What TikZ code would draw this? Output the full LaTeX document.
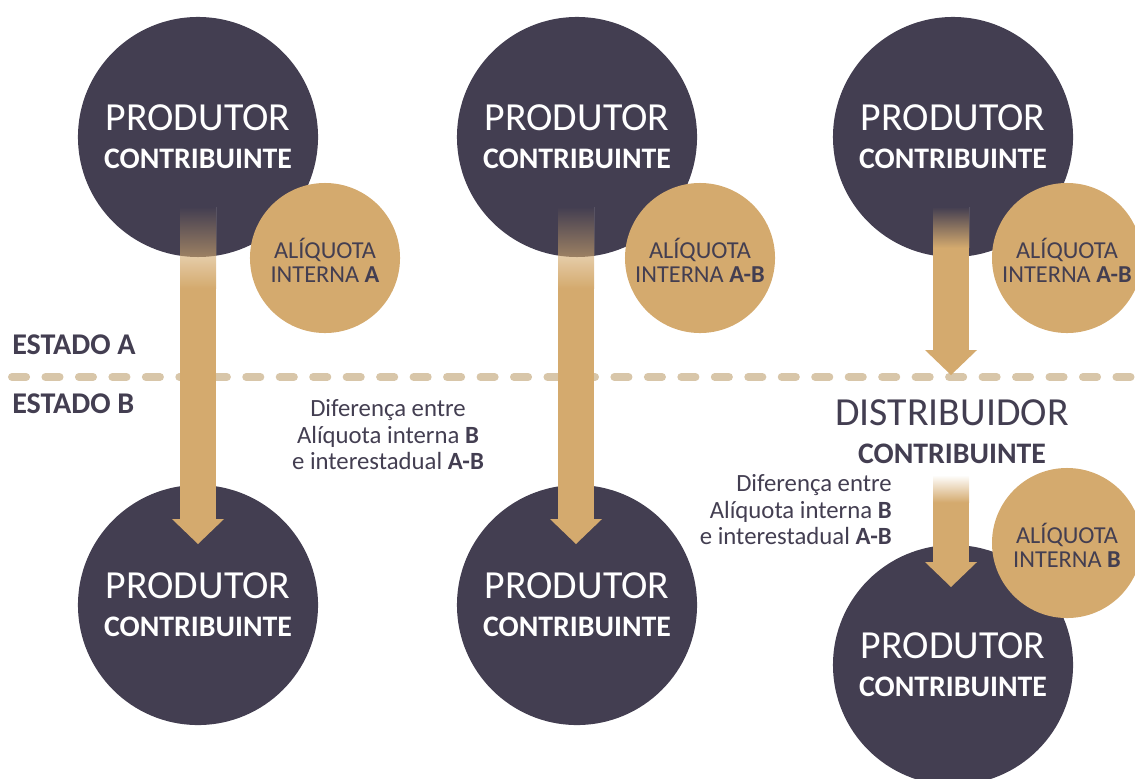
\documentclass[tikz,border=0pt]{standalone}
\usepackage{fontspec}
\setmainfont{Carlito}
\usepackage{xcolor}
\usepackage{tikz}
\usetikzlibrary{calc}
\definecolor{plum}{HTML}{433E51}
\definecolor{gold}{HTML}{D4AA6E}
\definecolor{sand}{HTML}{D8C6A9}
\tikzset{
bigdot/.style={circle, fill=plum, minimum size=6cm, inner sep=0pt},
golddot/.style={circle, fill=gold, minimum size=3.75cm, inner sep=0pt},
bigword/.style={anchor=base, inner sep=0pt, font=\fontsize{28.3}{32}\selectfont},
boldword/.style={anchor=base, inner sep=0pt, font=\fontsize{21.2}{24}\selectfont\bfseries},
smallword/.style={anchor=base, inner sep=0pt, text=plum, font=\fontsize{17.3}{20}\selectfont},
estado/.style={anchor=base west, inner sep=0pt, text=plum, font=\fontsize{21.4}{24}\selectfont\bfseries},
note/.style={inner sep=0pt, text=plum, font=\fontsize{17.6}{18.85}\selectfont},
dashline/.style={sand, line width=5.7pt, line cap=round, dash pattern=on 10pt off 13.8pt}
}
\newcommand{\produtor}[2]{
\node[bigdot] (#1) at (#2) {};
\node[bigword, text=white] (#1-a) at ($(#1)+(0,-7)$) {PRODUTOR};
\node[boldword, text=white] (#1-b) at ($(#1)+(0,31)$) {CONTRIBUINTE};
}
\newcommand{\aliquota}[3]{
\node[golddot] (#1) at (#2) {};
\node[smallword] (#1-a) at (#1) {ALÍQUOTA};
\node[smallword] (#1-b) at ($(#1)+(0,24)$) {INTERNA \textbf{#3}};
}
\newcommand{\shaft}[3]{
\coordinate (s) at (#1);
\coordinate (t) at (#2);
\coordinate (f) at ($(s)!0.24!(t)$);
\fill[gold] ($(f)+(-18,0)$) rectangle ($(t)+(18,-25)$);
\fill[gold] ($(t)+(-26,-25)$) -- ($(t)+(26,-25)$) -- (t) -- cycle;
\shade[top color=white, bottom color=gold] ($(s)+(-18,0)$) rectangle ($(f)+(18,0.5)$);
\ifx\relax#3\relax\else
\begin{scope}
\clip (#3) circle (120);
\shade[top color=plum, bottom color=gold] ($(s)+(-18,0)$) rectangle ($(f)+(18,0.5)$);
\end{scope}
\fi
}

\begin{document}
\begin{tikzpicture}[x=0.025cm,y=-0.025cm]
\clip (0,0) rectangle (1135,778);
\coordinate (dl) at (12,377);
\coordinate (dr) at (1140,377);
\draw[dashline] (dl) -- (dr);
\node[estado] (estA) at (12,354) {ESTADO A};
\node[estado] (estB) at (12,413) {ESTADO B};
\produtor{p1}{198,137}
\produtor{p2}{577,137}
\produtor{p3}{953,137}
\produtor{q1}{198,605}
\produtor{q2}{577,605}
\produtor{q3}{953,665}
\coordinate (p1s) at (198,207);
\coordinate (p2s) at (576,207);
\coordinate (p3s) at (951,207);
\coordinate (q1t) at (198,544);
\coordinate (q2t) at (576,544);
\coordinate (dt) at (951,375);
\coordinate (ds) at (951,475);
\coordinate (q3t) at (951,587);
\shaft{p1s}{q1t}{p1}
\shaft{p2s}{q2t}{p2}
\shaft{p3s}{dt}{p3}
\shaft{ds}{q3t}{}
\aliquota{a1}{325,258}{A}
\aliquota{a2}{700,258}{A-B}
\aliquota{a3}{1067,258}{A-B}
\aliquota{a4}{1067,543}{B}
\node[bigword, text=plum] (dist) at (952,425) {DISTRIBUIDOR};
\node[boldword, text=plum] (dist-b) at (952,463) {CONTRIBUINTE};
\node[note, align=center] (dif1) at (388,435) {Diferença entre\\Alíquota interna \textbf{B}\\e interestadual \textbf{A-B}};
\node[note, align=right, anchor=east] (dif2) at (892,510) {Diferença entre\\Alíquota interna \textbf{B}\\e interestadual \textbf{A-B}};
\end{tikzpicture}
\end{document}
